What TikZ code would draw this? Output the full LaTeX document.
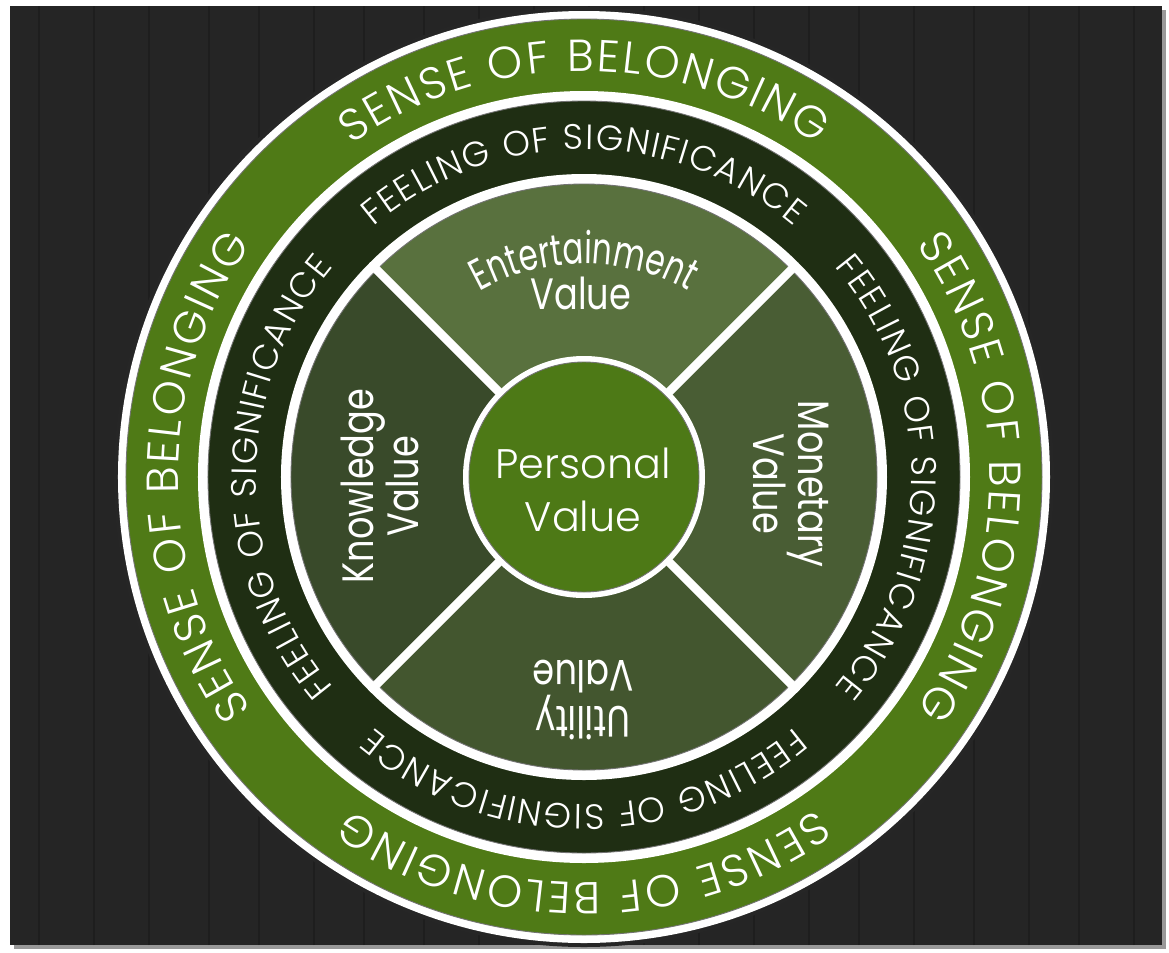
\documentclass[tikz,border=0pt]{standalone}
\usepackage{fontspec}
\setmainfont{Poppins}
\newfontfamily\lightfont{Poppins Light}
\newfontfamily\narrowfont{Poppins}[FakeStretch=0.8]
\newfontfamily\tightfont{Poppins}[FakeStretch=0.7]
\usepackage{tikz}
\usetikzlibrary{decorations.text}

\definecolor{woodbg}{RGB}{37,37,37}
\definecolor{woodline}{RGB}{30,30,30}
\definecolor{belonggreen}{RGB}{79,122,22}
\definecolor{signifdark}{RGB}{31,46,19}
\definecolor{entquad}{RGB}{89,113,62}
\definecolor{knowquad}{RGB}{57,74,42}
\definecolor{monquad}{RGB}{73,93,52}
\definecolor{utilquad}{RGB}{67,86,47}
\definecolor{persgreen}{RGB}{77,121,22}

\newcommand{\belongfont}{\lightfont\fontsize{25.5}{27}\selectfont\color{white}}
\newcommand{\signiffont}{\lightfont\fontsize{20}{21}\selectfont\color{white}}
\newcommand{\quadfont}{\narrowfont\fontsize{25}{26}\selectfont\color{white}}
\newcommand{\entfont}{\tightfont\fontsize{25}{26}\selectfont\color{white}}

\begin{document}
\begin{tikzpicture}[
    ringedge/.style={draw=black!55, line width=0.5pt},
    quadlabel/.style={text=white, font=\quadfont, align=center, inner sep=0pt},
    perslabel/.style={text=white, font={\lightfont\fontsize{23.5}{30}\selectfont}, align=center, inner sep=0pt},
    belongtext/.style={decorate, decoration={text along path, text align={fit to path},
        text={|\belongfont|SENSE OF BELONGING}}},
    signiftext/.style={decorate, decoration={text along path, text align={fit to path},
        text={|\signiffont|FEELING OF SIGNIFICANCE}}}
  ]
    \useasboundingbox (-11.68,-9.50) rectangle (11.70,9.54);
    \fill[white] (-11.68,-9.50) rectangle (11.70,9.54);

    % board
    \fill[black!40] (-11.40,-9.44) rectangle (11.64,9.34);
    \fill[woodbg] (-11.48,-9.36) rectangle (11.56,9.42);
    \foreach \x in {-10.9,-9.8,-8.7,-7.5,-6.5,-5.4,-4.4,-3.2,-2.1,-1.0,0.1,1.2,2.3,3.4,4.5,5.5,6.6,7.8,8.9,9.9,11.0}
      \draw[woodline, line width=0.6pt] (\x,-9.36) -- (\x,9.42);

    % rings
    \fill[black!85] (0,0) circle (9.40);
    \fill[white] (0,0) circle (9.32);
    \filldraw[fill=belonggreen, ringedge] (0,0) circle (9.16);
    \fill[white] (0,0) circle (7.72);
    \filldraw[fill=signifdark, ringedge] (0,0) circle (7.52);
    \fill[white] (0,0) circle (6.06);

    % quadrants
    \filldraw[fill=entquad, ringedge] (0,0) -- (45:5.86) arc[start angle=45, end angle=135, radius=5.86] -- cycle;
    \filldraw[fill=knowquad, ringedge] (0,0) -- (135:5.86) arc[start angle=135, end angle=225, radius=5.86] -- cycle;
    \filldraw[fill=utilquad, ringedge] (0,0) -- (225:5.86) arc[start angle=225, end angle=315, radius=5.86] -- cycle;
    \filldraw[fill=monquad, ringedge] (0,0) -- (-45:5.86) arc[start angle=-45, end angle=45, radius=5.86] -- cycle;
    \foreach \a in {45,135,225,315}
      \draw[white, line width=5pt] (0,0) -- (\a:5.92);

    % centre
    \fill[white] (0,0) circle (2.42);
    \filldraw[fill=persgreen, ringedge] (0,0) circle (2.30);

    % ring texts
    \foreach \a in {90,0,-90,180}{
      \path[belongtext] (\a+35:8.12) arc[start angle=\a+35, end angle=\a-35, radius=8.12];
      \path[signiftext] (\a+40:6.55) arc[start angle=\a+40, end angle=\a-40, radius=6.55];
    }

    % quadrant labels
    \path[decorate, decoration={text along path, text align=center, text={|\entfont|Entertainment}}]
      (135:4.26) arc[start angle=135, end angle=45, radius=4.26];
    \node[quadlabel, anchor=base] (entval) at (-0.06,3.36) {Value};
    \node[quadlabel, rotate=90] (know) at (-4.08,-0.18) {Knowledge\\Value};
    \node[quadlabel, rotate=-90] (mon) at (4.14,-0.14) {Monetary\\Value};
    \node[quadlabel, rotate=180] (util) at (-0.02,-4.46) {Utility\\Value};
    \node[perslabel] (pers) at (-0.02,-0.26) {Personal\\Value};
\end{tikzpicture}
\end{document}
